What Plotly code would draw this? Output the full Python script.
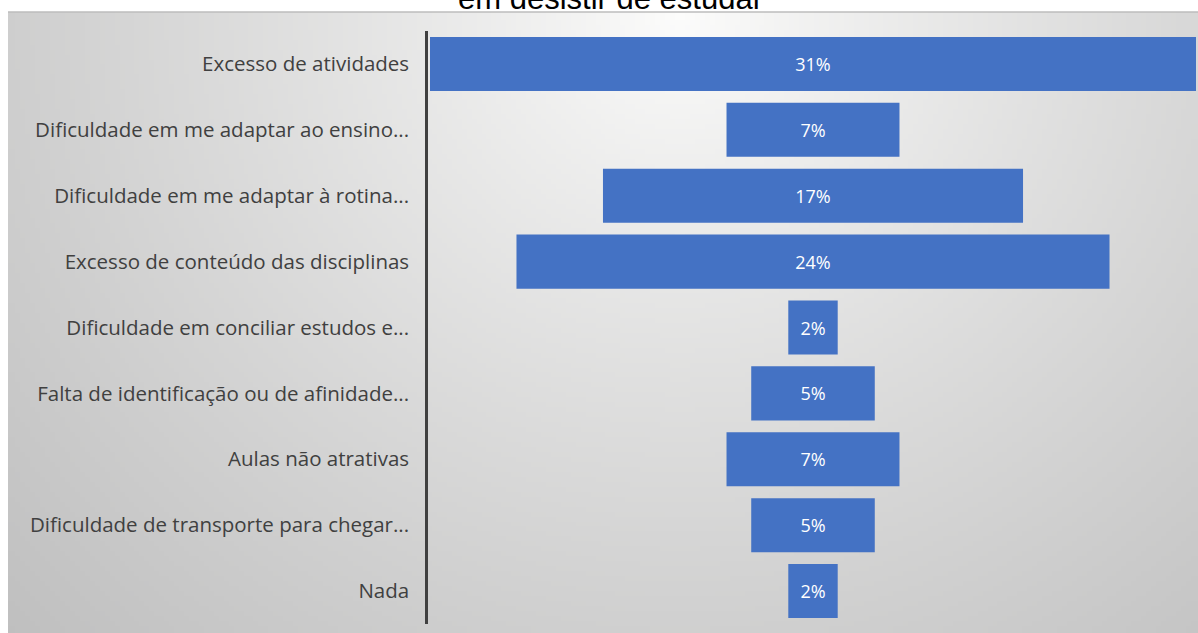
import base64
import struct
import zlib

import numpy as np
import plotly.graph_objects as go

# Survey answers, top to bottom, with their share of responses (%)
categories = [
    "Excesso de atividades",
    "Dificuldade em me adaptar ao ensino...",
    "Dificuldade em me adaptar à rotina...",
    "Excesso de conteúdo das disciplinas",
    "Dificuldade em conciliar estudos e...",
    "Falta de identificação ou de afinidade...",
    "Aulas não atrativas",
    "Dificuldade de transporte para chegar...",
    "Nada",
]
values = [31, 7, 17, 24, 2, 5, 7, 5, 2]
value_labels = [f"{v}%" for v in values]

W, H = 1198, 633
# plot-area box in page pixels
PL, PR, PT, PB = 428, 1198, 31, 624


def px_to_paper_x(px):
    return (px - PL) / (PR - PL)


def px_to_paper_y(py):
    return (PB - py) / (PB - PT)


def png_data_uri(rgb):
    """Encode an (h, w, 3) uint8 array as a PNG data URI."""
    h, w, _ = rgb.shape
    raw = b"".join(b"\x00" + rgb[r].tobytes() for r in range(h))

    def chunk(tag, data):
        c = struct.pack(">I", len(data)) + tag + data
        return c + struct.pack(">I", zlib.crc32(tag + data) & 0xFFFFFFFF)

    png = b"\x89PNG\r\n\x1a\n"
    png += chunk(b"IHDR", struct.pack(">IIBBBBB", w, h, 8, 2, 0, 0, 0))
    png += chunk(b"IDAT", zlib.compress(raw, 9))
    png += chunk(b"IEND", b"")
    return "data:image/png;base64," + base64.b64encode(png).decode()


# soft radial grey background panel, brightest near the top centre
panel_x0, panel_y0, panel_x1, panel_y1 = 8, 12, W, H
gw, gh = 240, 125
xs = np.linspace(panel_x0, panel_x1, gw)
ys = np.linspace(panel_y0, panel_y1, gh)
gx, gy = np.meshgrid(xs, ys)
dist = np.hypot(gx - 680, (gy - 12) * 1.05)
shade = 253 - 58 * np.clip(dist / 880, 0, 1.3) ** 0.85
shade = np.clip(shade, 180, 255)
rgb = np.stack([shade, shade, shade * 0.985 + 3], axis=-1).astype(np.uint8)
bg_uri = png_data_uri(rgb)

fig = go.Figure(
    go.Funnel(
        y=categories,
        x=values,
        text=value_labels,
        textinfo="text",
        textposition="inside",
        insidetextanchor="middle",
        textfont=dict(family="Open Sans", size=18, color="white"),
        marker=dict(color="#4472C4", line=dict(width=0)),
        connector=dict(visible=False),
        hoverinfo="y+text",
    )
)

half = 31 * (PR - PL) / 766 / 2

fig.update_layout(
    width=W,
    height=H,
    margin=dict(l=PL, r=W - PR, t=PT, b=H - PB, pad=0),
    paper_bgcolor="white",
    plot_bgcolor="rgba(0,0,0,0)",
    funnelgap=0.18,
    showlegend=False,
    uniformtext=dict(minsize=18, mode="show"),
    xaxis=dict(visible=False, range=[-half, half], fixedrange=True),
    yaxis=dict(
        showline=True,
        linecolor="#404040",
        linewidth=2.5,
        showgrid=False,
        ticks="",
        ticklabelstandoff=12,
        tickfont=dict(family="Open Sans", size=20.5, color="#404040"),
    ),
    images=[
        dict(
            source=bg_uri,
            xref="paper",
            yref="paper",
            x=px_to_paper_x(panel_x0),
            y=px_to_paper_y(panel_y0),
            sizex=px_to_paper_x(panel_x1) - px_to_paper_x(panel_x0),
            sizey=px_to_paper_y(panel_y0) - px_to_paper_y(panel_y1),
            xanchor="left",
            yanchor="top",
            sizing="stretch",
            layer="below",
        )
    ],
    shapes=[
        dict(
            type="line",
            xref="paper",
            yref="paper",
            x0=px_to_paper_x(panel_x0),
            x1=px_to_paper_x(panel_x1),
            y0=px_to_paper_y(panel_y0),
            y1=px_to_paper_y(panel_y0),
            line=dict(color="#bcbcbc", width=1.5),
            layer="below",
        )
    ],
    annotations=[
        dict(
            text="em desistir de estudar",
            xref="paper",
            yref="paper",
            x=px_to_paper_x(610),
            y=1,
            xanchor="center",
            yanchor="bottom",
            yshift=13,
            showarrow=False,
            font=dict(family="Liberation Sans", size=31, color="#000000"),
        )
    ],
)

fig.write_html("out.html")
